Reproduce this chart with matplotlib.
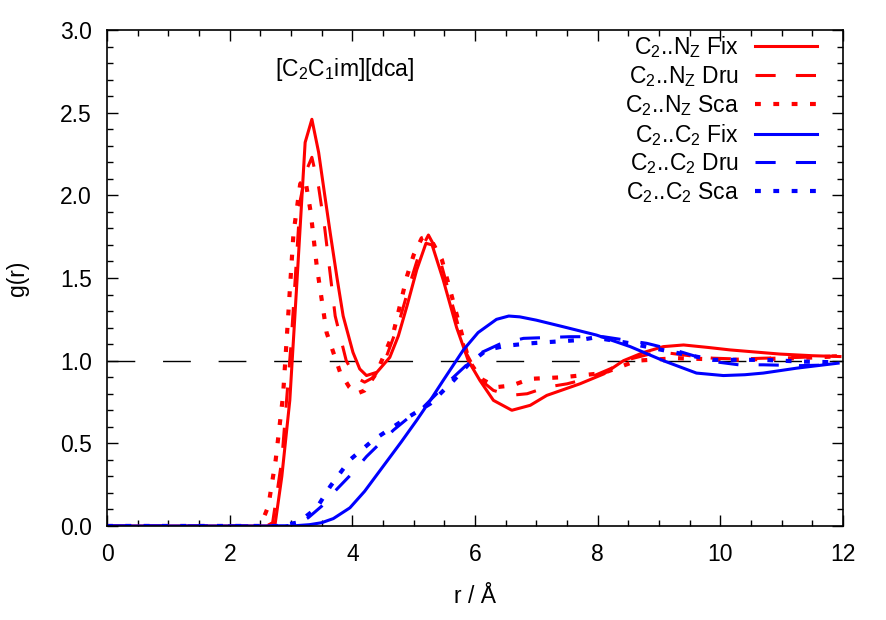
import numpy as np
import matplotlib.pyplot as plt
from matplotlib.ticker import MultipleLocator

plt.rcParams['font.family'] = ['Liberation Sans', 'DejaVu Sans']
plt.rcParams['mathtext.fontset'] = 'custom'
plt.rcParams['mathtext.rm'] = 'Liberation Sans'
plt.rcParams['mathtext.it'] = 'Liberation Sans'

# C2..NZ  (red)
r_nz_fix = [0, 2.6, 2.74, 2.85, 2.98, 3.1, 3.23, 3.34, 3.45, 3.55, 3.64, 3.75, 3.85, 4.01, 4.12, 4.23, 4.4, 4.61,
            4.75, 4.89, 5.05, 5.2, 5.3, 5.48, 5.7, 5.89, 6.08, 6.3, 6.6, 6.9, 7.17, 7.71, 8.1, 8.42, 8.75, 9.07,
            9.4, 9.8, 10.16, 10.97, 11.5, 11.95]
g_nz_fix = [0, 0, 0.01, 0.3, 0.76, 1.5, 2.32, 2.46, 2.26, 2.0, 1.77, 1.5, 1.27, 1.05, 0.95, 0.91, 0.93, 1.02,
            1.15, 1.33, 1.55, 1.71, 1.7, 1.49, 1.2, 1.0, 0.88, 0.76, 0.70, 0.73, 0.79, 0.86, 0.92, 1.0, 1.05, 1.085,
            1.095, 1.08, 1.065, 1.04, 1.03, 1.025]

r_nz_dru = [0, 2.6, 2.7, 2.85, 3.0, 3.15, 3.25, 3.34, 3.45, 3.55, 3.72, 3.9, 4.05, 4.2, 4.35, 4.55, 4.75, 4.95,
            5.1, 5.24, 5.4, 5.6, 5.85, 6.1, 6.3, 6.57, 6.85, 7.17, 7.5, 7.82, 8.2, 8.53, 8.85, 9.18, 9.5, 9.88,
            10.3, 10.7, 11.3, 11.9]
g_nz_dru = [0, 0, 0.02, 0.4, 1.1, 1.97, 2.15, 2.23, 2.05, 1.8, 1.27, 1.0, 0.9, 0.87, 0.9, 1.02, 1.22, 1.48,
            1.66, 1.76, 1.65, 1.38, 1.05, 0.88, 0.82, 0.79, 0.80, 0.84, 0.86, 0.89, 0.95, 1.01, 1.04, 1.045, 1.03, 1.015,
            1.01, 1.015, 1.02, 1.03]

r_nz_sca = [0, 2.5, 2.63, 2.75, 2.87, 2.95, 3.04, 3.15, 3.23, 3.32, 3.42, 3.58, 3.8, 3.95, 4.07, 4.2, 4.4, 4.67,
            4.89, 5.0, 5.13, 5.2, 5.3, 5.46, 5.65, 5.9, 6.1, 6.35, 6.6, 6.9, 7.44, 8.09, 8.35, 8.63, 9.29, 10.16,
            11.25, 11.84]
g_nz_sca = [0, 0, 0.12, 0.4, 0.79, 1.25, 1.77, 2.07, 2.1, 1.9, 1.57, 1.17, 0.93, 0.84, 0.80, 0.82, 0.93, 1.17,
            1.51, 1.64, 1.74, 1.75, 1.72, 1.61, 1.35, 1.0, 0.89, 0.84, 0.85, 0.89, 0.90, 0.925, 0.96, 1.0, 1.015, 1.005,
            1.015, 1.025]

# C2..C2  (blue)
r_cc_fix = [0, 3.0, 3.3, 3.5, 3.69, 3.96, 4.2, 4.5, 4.8, 5.05, 5.27, 5.48, 5.81, 6.05, 6.35, 6.55, 6.73, 7.0,
            7.44, 7.98, 8.53, 9.07, 9.61, 10.05, 10.4, 10.7, 11.25, 11.92]
g_cc_fix = [0, 0, 0.008, 0.02, 0.045, 0.11, 0.21, 0.36, 0.51, 0.64, 0.76, 0.88, 1.065, 1.17, 1.25, 1.27, 1.265, 1.245,
            1.205, 1.155, 1.085, 1.0, 0.925, 0.91, 0.915, 0.925, 0.955, 0.985]

r_cc_dru = [0, 2.9, 3.1, 3.28, 3.5, 3.74, 4.0, 4.23, 4.45, 4.67, 4.9, 5.16, 5.59, 5.85, 6.08, 6.4, 6.79, 7.55,
            8.09, 8.8, 9.34, 9.88, 10.3, 10.7, 11.3, 11.9]
g_cc_dru = [0, 0, 0.01, 0.05, 0.12, 0.22, 0.32, 0.42, 0.5, 0.58, 0.65, 0.72, 0.88, 0.97, 1.045, 1.1, 1.135, 1.145,
            1.145, 1.105, 1.055, 0.995, 0.975, 0.975, 0.97, 0.975]

r_cc_sca = [0, 2.8, 3.09, 3.25, 3.42, 3.64, 3.96, 4.34, 4.83, 5.27, 5.65, 5.9, 6.19, 6.5, 6.9, 7.3, 7.71, 7.95,
            8.53, 9.18, 9.88, 10.7, 11.3, 11.9]
g_cc_sca = [0, 0, 0.02, 0.06, 0.11, 0.24, 0.40, 0.52, 0.64, 0.74, 0.88, 0.98, 1.065, 1.09, 1.105, 1.115, 1.125, 1.14,
            1.105, 1.055, 1.005, 1.005, 0.995, 0.99]

fig = plt.figure(figsize=(8.86, 6.2), dpi=100)
ax = fig.add_axes([0.1208, 0.1516, 0.8307, 0.80])

ax.axhline(1.0, color='black', lw=1.0, dashes=(20, 20))

red = '#ff0000'
blue = '#0000ff'
lw = 2.2
dash = (6.6, 6.6)
dot = (1.4, 3.0)
ax.plot(r_nz_fix, g_nz_fix, color=red, lw=lw, label=r'C$_2$..N$_Z$ Fix')
ax.plot(r_nz_dru, g_nz_dru, color=red, lw=lw, dashes=dash, label=r'C$_2$..N$_Z$ Dru')
ax.plot(r_nz_sca, g_nz_sca, color=red, lw=3.0, dashes=dot, label=r'C$_2$..N$_Z$ Sca')
ax.plot(r_cc_fix, g_cc_fix, color=blue, lw=lw, label=r'C$_2$..C$_2$ Fix')
ax.plot(r_cc_dru, g_cc_dru, color=blue, lw=lw, dashes=dash, label=r'C$_2$..C$_2$ Dru')
ax.plot(r_cc_sca, g_cc_sca, color=blue, lw=3.0, dashes=dot, label=r'C$_2$..C$_2$ Sca')

ax.set_xlim(0, 12)
ax.set_ylim(0, 3.0)
ax.xaxis.set_major_locator(MultipleLocator(2))
ax.xaxis.set_minor_locator(MultipleLocator(0.5))
ax.yaxis.set_minor_locator(MultipleLocator(0.1))
ax.set_yticks(np.arange(0, 3.01, 0.5))
ax.set_yticklabels(['%.1f' % v for v in np.arange(0, 3.01, 0.5)])
ax.tick_params(which='both', direction='in', top=True, right=True, labelsize=16.5, width=1)
ax.tick_params(which='major', length=8)
ax.tick_params(axis='x', which='major', pad=12)
ax.tick_params(axis='y', which='major', pad=11)
ax.tick_params(which='minor', length=4)
for s in ax.spines.values():
    s.set_linewidth(1.2)

ax.set_xlabel('r / Å', fontsize=16.5, labelpad=14)
ax.set_ylabel('g(r)', fontsize=16.5, labelpad=22)

ax.text(3.88, 2.76, r'[C$_2$C$_1$im][dca]', fontsize=16.5, ha='center', va='center')

ax.legend(loc='upper right', frameon=False, fontsize=16.5, markerfirst=False,
          handlelength=2.7, handletextpad=0.7, labelspacing=0.17,
          borderaxespad=0.0, bbox_to_anchor=(0.977, 1.01))

fig.savefig('out.png', dpi=100)
